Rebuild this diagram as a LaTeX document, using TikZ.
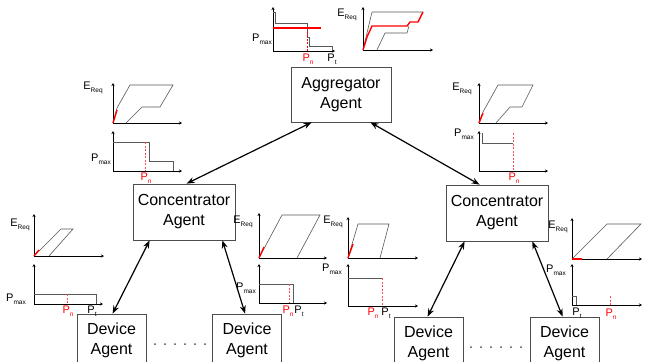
\documentclass[tikz,border=0pt]{standalone}
\usepackage{fontspec}
\setmainfont{Liberation Sans}
\usetikzlibrary{arrows.meta}
\newcommand\sublab[2]{#1\raisebox{-3pt}{\fontsize{6.5}{6.5}\selectfont #2}}
\begin{document}
\begin{tikzpicture}[x=1pt,y=-1pt,
  box/.style={draw=black!70, line width=0.8pt, align=center, font=\fontsize{16}{20}\selectfont, inner sep=0pt},
  link/.style={{Stealth[length=8pt,width=6pt]}-{Stealth[length=8pt,width=6pt]}, line width=1.2pt},
  axis/.style={{Stealth[length=3pt,width=3pt]}-{Stealth[length=3pt,width=3pt]}, line width=1pt},
  crv/.style={draw=black!65, line width=0.6pt},
  redc/.style={draw=red, line width=1.4pt},
  pnl/.style={draw=red!70, dash pattern=on 2pt off 1.5pt, line width=0.6pt},
  lbl/.style={font=\fontsize{11}{11}\selectfont, inner sep=0pt},
  rlbl/.style={lbl, text=red},
  dotm/.style={fill=black!70}
]
\clip (0,0) rectangle (649,362);
\fill[white] (0,0) rectangle (649,362);

% boxes
\node[box, minimum width=100pt, minimum height=55pt] (agg) at (341,94.5) {Aggregator\\Agent};
\node[box, minimum width=102pt, minimum height=56pt] (concL) at (184,212) {Concentrator\\Agent};
\node[box, minimum width=102pt, minimum height=56pt] (concR) at (497,213) {Concentrator\\Agent};
\node[box, minimum width=69pt, minimum height=52pt] (dev1) at (111.5,340) {Device\\Agent};
\node[box, minimum width=69pt, minimum height=52pt] (dev2) at (247,340) {Device\\Agent};
\node[box, minimum width=69pt, minimum height=52pt] (dev3) at (428.5,343) {Device\\Agent};
\node[box, minimum width=69pt, minimum height=52pt] (dev4) at (564.5,343) {Device\\Agent};

% links
\draw[link] ([xshift=21pt]agg.south west) -- ([xshift=54pt]concL.north west);
\draw[link] ([xshift=-21pt]agg.south east) -- ([xshift=34pt]concR.north west);
\draw[link] ([xshift=17pt]concL.south west) -- ([xshift=36pt]dev1.north west);
\draw[link] ([xshift=-13pt]concL.south east) -- ([xshift=33pt]dev2.north west);
\draw[link] ([xshift=19pt]concR.south west) -- ([xshift=34pt]dev3.north west);
\draw[link] ([xshift=-16pt]concR.south east) -- ([xshift=33pt]dev4.north west);

% dots
\foreach \i in {0,...,5} {
  \fill[dotm] (155+10*\i,344) circle (1pt);
  \fill[dotm] (471+10*\i,347) circle (1pt);
}

% Chart A (top left)
\draw[axis] (273,7) -- (273,51) -- (335,51);
\draw[crv] (273,12) -- (275,12) -- (275,23) -- (307,23) -- (307,37) -- (309,37) -- (309,46) -- (332,46) -- (332,51);
\draw[redc] (273,28) -- (321,28);
\draw[pnl, draw=red] (307,28) -- (307,51);
\node[lbl] (pmA) at (262,39) {\sublab{P}{max}};
\node[rlbl] (pnA) at (308,59) {\sublab{P}{n}};
\node[lbl] (ptA) at (332,59) {\sublab{P}{t}};

% Chart B (top right)
\draw[axis] (363,7) -- (363,50) -- (433,50);
\draw[crv] (363,50) -- (367,33) -- (372,12) -- (423,12);
\draw[crv] (377,50) -- (385,33) -- (407,33) -- (409,26);
\draw[redc] (363,50) -- (367,37) -- (372,26) -- (407,26) -- (410,22) -- (418,22) -- (423,12);
\node[lbl] (erB) at (347,15) {\sublab{E}{Req}};

% Chart C
\draw[axis] (113,83) -- (113,123) -- (182,123);
\draw[crv] (113,123) -- (117,108) -- (130,85) -- (173,85) -- (160,107) -- (142,107) -- (126,123);
\draw[redc] (113,123) -- (117,110);
\node[lbl] (erC) at (93,88) {\sublab{E}{Req}};

% Chart D
\draw[axis] (113,131) -- (113,171) -- (182,171);
\draw[crv] (113,142) -- (149,142) -- (149,161) -- (173,161) -- (173,171);
\draw[pnl] (145,142) -- (145,171);
\node[lbl] (pmD) at (101,159) {\sublab{P}{max}};
\node[rlbl] (pnD) at (146,178) {\sublab{P}{n}};

% Chart E
\draw[axis] (479,83) -- (479,123) -- (548,123);
\draw[crv] (479,123) -- (483,112) -- (498,85) -- (533,85) -- (522,107) -- (510,107) -- (496,123);
\draw[redc] (479,123) -- (483,113);
\node[lbl] (erE) at (462,89) {\sublab{E}{Req}};

% Chart F
\draw[axis] (479,131) -- (479,171) -- (548,171);
\draw[crv] (482,133) -- (482,143) -- (513,143);
\draw[pnl] (513,133) -- (513,171);
\node[lbl] (pmF) at (464,134) {\sublab{P}{max}};
\node[rlbl] (pnF) at (514,178) {\sublab{P}{n}};

% Chart G
\draw[axis] (34,214) -- (34,256) -- (104,256);
\draw[crv] (34,256) -- (61,229) -- (73,229) -- (49,256);
\draw[redc] (34,256) -- (39,250);
\node[lbl] (erG) at (20,225) {\sublab{E}{Req}};

% Chart H
\draw[axis] (34,264) -- (34,304) -- (103,304);
\draw[crv] (34,294) -- (96,294) -- (96,304);
\draw[pnl] (67,294) -- (67,304);
\node[lbl] (pmH) at (16,299) {\sublab{P}{max}};
\node[rlbl] (pnH) at (68,311) {\sublab{P}{n}};
\node[lbl] (ptH) at (92,311) {\sublab{P}{t}};

% Chart I
\draw[axis] (259,213) -- (259,258) -- (327,258);
\draw[crv] (259,258) -- (282,215) -- (320,215) -- (297,258);
\draw[redc] (259,258) -- (264,247);
\node[lbl] (erI) at (243,222) {\sublab{E}{Req}};

% Chart J
\draw[axis] (259,264) -- (259,303) -- (327,303);
\draw[crv] (259,284) -- (293,284) -- (293,303);
\draw[pnl] (289,284) -- (289,303);
\node[lbl] (pmJ) at (246,288) {\sublab{P}{max}};
\node[rlbl] (pnJ) at (288,311) {\sublab{P}{n}};
\node[lbl] (ptJ) at (299,311) {\sublab{P}{t}};

% Chart K
\draw[axis] (348,217) -- (348,258) -- (418,258);
\draw[crv] (348,258) -- (358,224) -- (389,224) -- (380,258);
\draw[redc] (348,258) -- (353,244);
\node[lbl] (erK) at (333,222) {\sublab{E}{Req}};

% Chart L
\draw[axis] (348,264) -- (348,306) -- (418,306);
\draw[crv] (348,278) -- (382,278);
\draw[pnl] (382,278) -- (382,306);
\node[lbl] (pmL) at (332,269) {\sublab{P}{max}};
\node[rlbl] (pnL) at (373,313) {\sublab{P}{n}};
\node[lbl] (ptL) at (386,313) {\sublab{P}{t}};

% Chart M
\draw[axis] (572,218) -- (572,259) -- (642,259);
\draw[crv] (572,259) -- (607,224) -- (641,224) -- (607,259);
\draw[redc] (572,259) -- (582,259);
\node[lbl] (erM) at (558,227) {\sublab{E}{Req}};

% Chart N
\draw[axis] (572,264) -- (572,305) -- (642,305);
\draw[crv] (572,296) -- (576,296) -- (576,305);
\draw[pnl] (610,296) -- (610,305);
\node[lbl] (pmN) at (556,270) {\sublab{P}{max}};
\node[lbl] (ptN) at (577,313) {\sublab{P}{t}};
\node[rlbl] (pnN) at (611,314) {\sublab{P}{n}};
\end{tikzpicture}
\end{document}
